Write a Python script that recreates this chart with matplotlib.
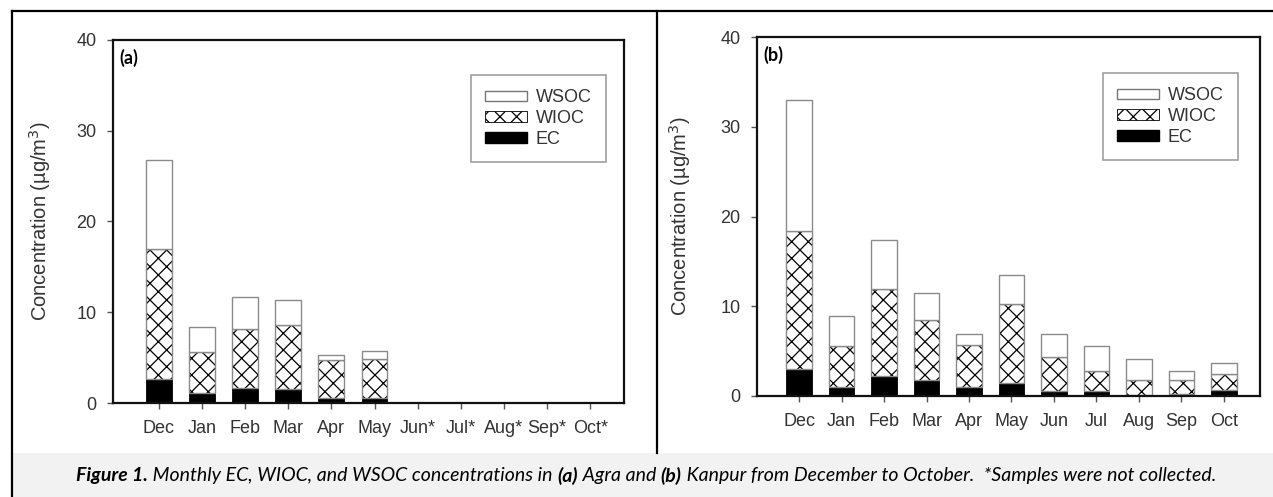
import numpy as np
import matplotlib
matplotlib.use('Agg')
import matplotlib.pyplot as plt
from matplotlib.lines import Line2D
from matplotlib.patches import Rectangle

# Données
months_a = ['Dec', 'Jan', 'Feb', 'Mar', 'Apr', 'May', 'Jun*', 'Jul*', 'Aug*', 'Sep*', 'Oct*']
ec_a = [2.6, 1.1, 1.6, 1.5, 0.55, 0.6, np.nan, np.nan, np.nan, np.nan, np.nan]
wioc_a = [14.4, 4.5, 6.55, 7.1, 4.2, 4.3, np.nan, np.nan, np.nan, np.nan, np.nan]
wsoc_a = [9.75, 2.75, 3.55, 2.8, 0.5, 0.8, np.nan, np.nan, np.nan, np.nan, np.nan]

months_b = ['Dec', 'Jan', 'Feb', 'Mar', 'Apr', 'May', 'Jun', 'Jul', 'Aug', 'Sep', 'Oct']
ec_b = [2.97, 1.04, 2.23, 1.78, 0.97, 1.41, 0.6, 0.58, 0.1, 0.2, 0.67]
wioc_b = [15.43, 4.57, 9.74, 6.7, 4.68, 8.79, 3.72, 2.23, 1.68, 1.58, 1.78]
wsoc_b = [14.6, 3.27, 5.43, 3.01, 1.26, 3.3, 2.6, 2.72, 2.38, 1.05, 1.27]

W, H = 1273, 497
plt.rcParams['font.family'] = ['Liberation Sans', 'DejaVu Sans']
plt.rcParams['hatch.linewidth'] = 0.9

fig = plt.figure(figsize=(W / 100, H / 100), dpi=100)


def fx(x):
    return x / W


def fy(y):
    return 1 - y / H


def draw_panel(rect, months, ec, wioc, wsoc, xlim, tag, leg_anchor, ylab_x):
    ax = fig.add_axes(rect)
    x = np.arange(len(months))
    ec = np.array(ec)
    wioc = np.array(wioc)
    wsoc = np.array(wsoc)
    w = 0.6
    ax.bar(x, ec, w, color='black', edgecolor='black', linewidth=0.6, label='EC')
    ax.bar(x, wioc, w, bottom=ec, color='white', edgecolor='black', linewidth=0, hatch='xx')
    ax.bar(x, wioc, w, bottom=ec, color='none', edgecolor='#8a8a8a', linewidth=1.0)
    ax.bar(x, wsoc, w, bottom=ec + wioc, color='white', edgecolor='#8a8a8a', linewidth=1.0)

    ax.set_xlim(*xlim)
    ax.set_ylim(0, 40)
    ax.set_yticks([0, 10, 20, 30, 40])
    ax.set_xticks(x)
    ax.set_xticklabels(months)
    for s in ax.spines.values():
        s.set_linewidth(1.6)
        s.set_color('#111111')
    ax.tick_params(axis='both', direction='out', length=4, width=1, color='#555555',
                   labelsize=13, labelcolor='#333333')
    ax.tick_params(axis='x', pad=8)
    ax.tick_params(axis='y', pad=8)
    ax.set_ylabel('Concentration (µg/m$^3$)', fontsize=14.5, color='#333333')
    ax.yaxis.set_label_coords(ylab_x, 0.5)

    ax.text(0.012, 0.95, tag, transform=ax.transAxes, fontsize=13, fontweight='bold',
            family=['Lato', 'DejaVu Sans'], va='center', ha='left')

    # légende : WSOC, WIOC, EC de haut en bas
    h_wsoc = Rectangle((0, 0), 1, 1, facecolor='white', edgecolor='#777777', linewidth=1)
    h_wioc = Rectangle((0, 0), 1, 1, facecolor='white', edgecolor='black', linewidth=0.6, hatch='xx')
    h_ec = Rectangle((0, 0), 1, 1, facecolor='black', edgecolor='black')
    leg = ax.legend([h_wsoc, h_wioc, h_ec], ['WSOC', 'WIOC', 'EC'],
                    loc='upper right', bbox_to_anchor=leg_anchor, bbox_transform=fig.transFigure,
                    fontsize=13, frameon=True, fancybox=False, edgecolor='#888888',
                    handlelength=2.3, handleheight=0.55, labelspacing=0.2,
                    borderpad=0.8, handletextpad=0.5, borderaxespad=0)
    leg.get_frame().set_linewidth(1.2)
    for t in leg.get_texts():
        t.set_color('#333333')
    return ax


ax1 = draw_panel([fx(113), fy(403), (624 - 113) / W, (403 - 40) / H],
                 months_a, ec_a, wioc_a, wsoc_a, (-1.06, 10.78), '(a)',
                 (fx(606), fy(75)), -0.117)
ax2 = draw_panel([fx(757), fy(396), (1260 - 757) / W, (396 - 37) / H],
                 months_b, ec_b, wioc_b, wsoc_b, (-0.99, 10.85), '(b)',
                 (fx(1238), fy(73)), -0.127)

# cadres de la figure
fig.add_artist(Rectangle((fx(12), 0), 1 - fx(12), fy(453), transform=fig.transFigure,
                         facecolor='#f2f2f2', edgecolor='none', zorder=0))
fig.add_artist(Line2D([fx(12), 1], [fy(11), fy(11)], color='black', lw=1.6))
fig.add_artist(Line2D([fx(12), fx(12)], [0, fy(11)], color='black', lw=1.6))
fig.add_artist(Line2D([fx(657), fx(657)], [fy(453), fy(11)], color='black', lw=1.6))

# légende de la figure, morceau par morceau
pieces = [("Figure 1.", 'bold'), (" Monthly EC, WIOC, and WSOC concentrations in ", 'normal'),
          ("(a)", 'bold'), (" Agra and ", 'normal'), ("(b)", 'bold'),
          (" Kanpur from December to October.  *Samples were not collected.", 'normal')]
cap_font = ['Lato', 'DejaVu Sans']
renderer = fig.canvas.get_renderer()
texts = []
for s, wt in pieces:
    t = fig.text(0, fy(476), s, fontsize=12, style='italic', fontweight=wt,
                 family=cap_font, va='center', ha='left')
    texts.append(t)
total = sum(t.get_window_extent(renderer).width for t in texts)
for t in texts:
    t.set_fontsize(12 * 1133 / total)
widths = [t.get_window_extent(renderer).width for t in texts]
x0 = 646 - sum(widths) / 2
for t, wd in zip(texts, widths):
    t.set_x(fx(x0))
    x0 += wd

fig.savefig('out.png', dpi=100)
